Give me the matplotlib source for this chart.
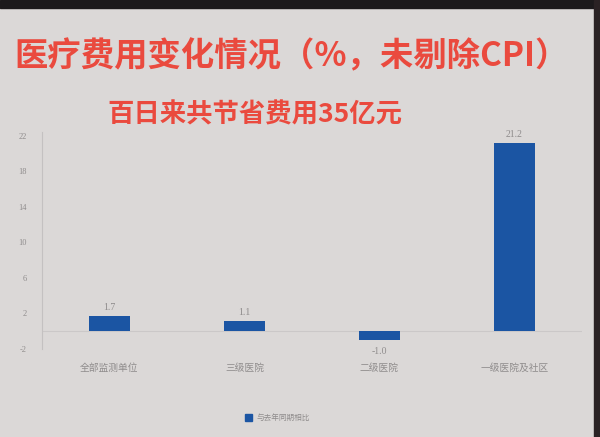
import matplotlib
matplotlib.use("Agg")
import matplotlib.pyplot as plt
from matplotlib.patches import Rectangle

plt.rcParams['font.family'] = ['Noto Sans CJK SC', 'DejaVu Sans']

categories = ["全部监测单位", "三级医院", "二级医院", "一级医院及社区"]
values = [1.7, 1.1, -1.0, 21.2]
value_labels = ["1.7", "1.1", "-1.0", "21.2"]
yticks = [-2, 2, 6, 10, 14, 18, 22]
series_name = "与去年同期相比"
title = "医疗费用变化情况（%，未剔除CPI）"
subtitle = "百日来共节省费用35亿元"

bg = "#dbd8d7"
bar_color = "#1b55a3"
grey = "#8f8c8c"
red = "#ea4a3e"

fig = plt.figure(figsize=(6.0, 4.37), dpi=100, facecolor=bg)

# dark frame of the screen at the top and right
fig.patches.append(Rectangle((0, 1 - 8 / 437), 1, 8 / 437, transform=fig.transFigure,
                             color="#1c1a1c", zorder=0))
fig.patches.append(Rectangle((1 - 6 / 600, 0), 6 / 600, 1, transform=fig.transFigure,
                             color="#2a2224", zorder=0))

ax = fig.add_axes([0.07, 0.202, 0.90, 0.497])
ax.set_facecolor("none")
x = list(range(len(categories)))
ax.bar(x, values, width=0.31, color=bar_color, zorder=3)
ax.set_xlim(-0.5, 3.5)
ax.set_ylim(-2, 22.5)
ax.set_yticks(yticks)
ax.set_yticklabels([str(t) for t in yticks], fontsize=6, color=grey,
                   family=['Liberation Serif'])
ax.tick_params(axis='y', length=0, pad=11)
ax.set_xticks(x)
ax.set_xticklabels(categories, fontsize=7, color=grey)
ax.tick_params(axis='x', length=0, pad=10)
for s in ["top", "right", "bottom"]:
    ax.spines[s].set_visible(False)
ax.spines["left"].set_color("#c4c1c1")
ax.spines["left"].set_linewidth(0.8)
ax.axhline(0, color="#cbc8c8", linewidth=0.8, zorder=1)

for xi, v, lab in zip(x, values, value_labels):
    if v >= 0:
        ax.annotate(lab, (xi, v), xytext=(0, 3), textcoords="offset points",
                    ha="center", va="bottom", fontsize=7, color=grey,
                    family=['Liberation Serif'])
    else:
        ax.annotate(lab, (xi, v), xytext=(0, -5), textcoords="offset points",
                    ha="center", va="top", fontsize=7, color=grey,
                    family=['Liberation Serif'])

fig.text(14 / 600, 1 - 57 / 437, title, fontsize=24, color=red, fontweight='bold',
         ha="left", va="center")
fig.text(107 / 600, 1 - 115 / 437, subtitle, fontsize=19, color=red,
         fontweight='bold', ha="left", va="center")

fig.patches.append(Rectangle((245 / 600, 1 - 421 / 437), 7 / 600, 7 / 437,
                             transform=fig.transFigure, color=bar_color))
fig.text(257 / 600, 1 - 417.5 / 437, series_name, fontsize=5.5, color=grey,
         ha="left", va="center")

fig.savefig("out.png", dpi=100, facecolor=bg)
